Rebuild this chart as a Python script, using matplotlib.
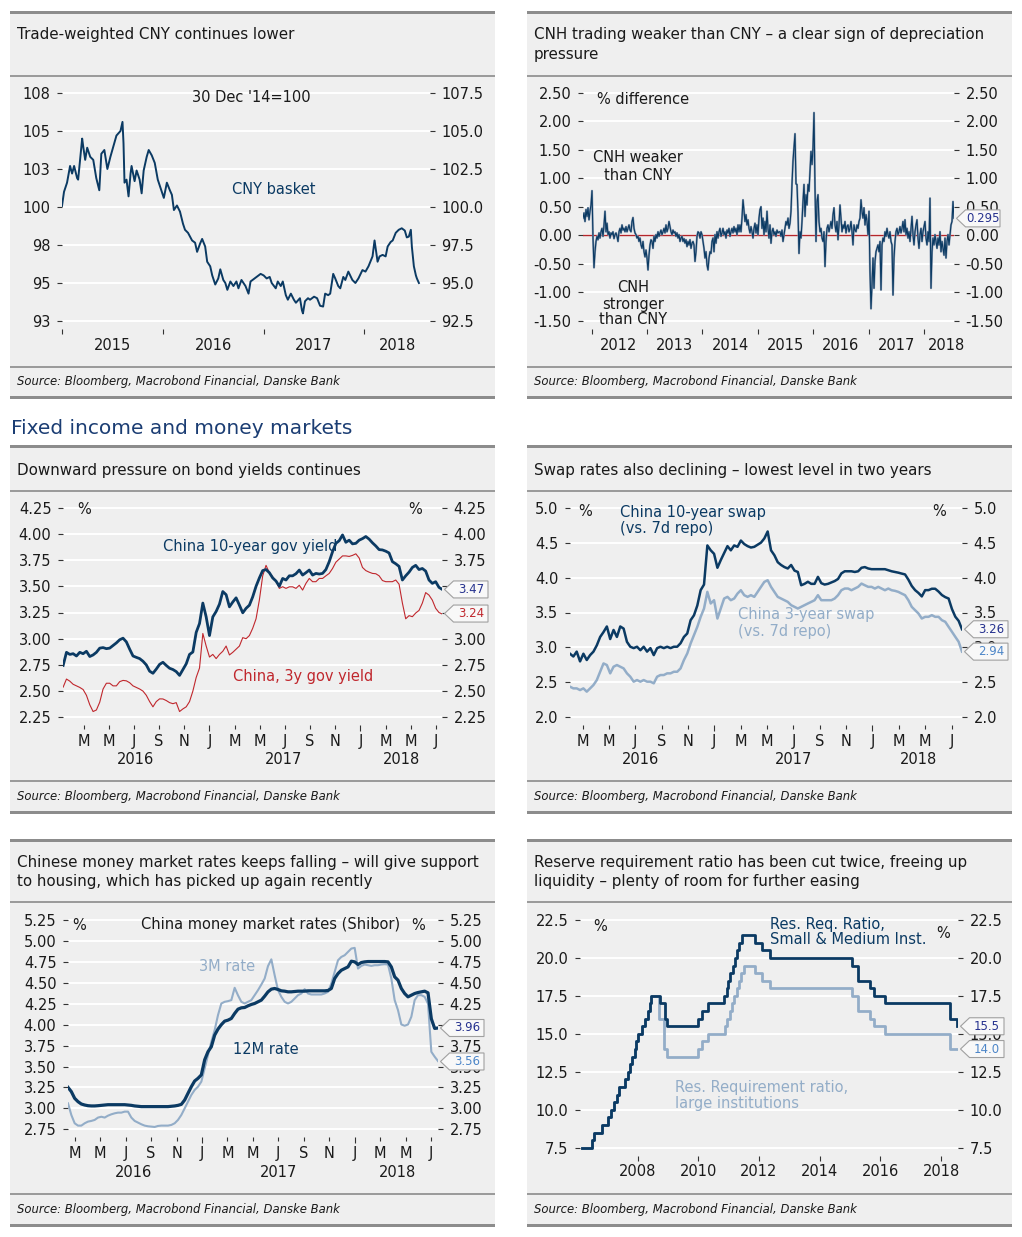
import numpy as np
import matplotlib
matplotlib.use("Agg")
import matplotlib.pyplot as plt
import matplotlib.transforms as mtransforms
from matplotlib.patches import Polygon, Rectangle

# ---- values ----
# Trade-weighted CNY basket (30 Dec '14 = 100)
CNY_YEARS = [2015.00, 2015.02, 2015.05, 2015.08, 2015.10, 2015.12, 2015.15, 2015.16, 2015.20, 2015.21,
             2015.23, 2015.25, 2015.28, 2015.31, 2015.34, 2015.37, 2015.39, 2015.42, 2015.45, 2015.48,
             2015.51, 2015.54, 2015.58, 2015.60, 2015.61, 2015.62, 2015.64, 2015.66, 2015.68, 2015.69,
             2015.72, 2015.74, 2015.77, 2015.79, 2015.81, 2015.84, 2015.86, 2015.89, 2015.92, 2015.95,
             2015.97, 2016.01, 2016.04, 2016.07, 2016.09, 2016.11, 2016.14, 2016.17, 2016.20, 2016.22,
             2016.25, 2016.29, 2016.32, 2016.34, 2016.37, 2016.39, 2016.42, 2016.44, 2016.47, 2016.49,
             2016.52, 2016.55, 2016.57, 2016.60, 2016.62, 2016.64, 2016.67, 2016.70, 2016.73, 2016.75,
             2016.78, 2016.82, 2016.85, 2016.87, 2016.91, 2016.93, 2016.97, 2017.00, 2017.03, 2017.06,
             2017.08, 2017.12, 2017.14, 2017.17, 2017.19, 2017.22, 2017.24, 2017.27, 2017.30, 2017.32,
             2017.36, 2017.38, 2017.39, 2017.41, 2017.44, 2017.46, 2017.50, 2017.53, 2017.56, 2017.59,
             2017.61, 2017.64, 2017.66, 2017.69, 2017.71, 2017.74, 2017.76, 2017.79, 2017.81, 2017.84,
             2017.88, 2017.91, 2017.94, 2017.98, 2018.01, 2018.04, 2018.08, 2018.10, 2018.13, 2018.15,
             2018.18, 2018.21, 2018.23, 2018.26, 2018.28, 2018.31, 2018.34, 2018.37, 2018.40, 2018.42,
             2018.44, 2018.46, 2018.47, 2018.49, 2018.51, 2018.52, 2018.54]
CNY_BASKET = [100.07, 101.0, 101.6, 102.7, 102.2, 102.7, 101.9, 101.8, 104.5, 104.0,
              103.1, 103.9, 103.3, 103.1, 101.9, 101.1, 103.5, 103.75, 102.5, 103.3,
              104.0, 104.7, 105.0, 105.6, 104.2, 101.6, 101.8, 100.7, 102.2, 102.7,
              101.7, 102.4, 101.8, 100.9, 102.4, 103.3, 103.75, 103.4, 102.9, 101.8,
              101.4, 100.6, 101.6, 101.1, 100.8, 99.8, 100.1, 99.7, 98.9, 98.5,
              98.3, 97.8, 97.65, 97.05, 97.6, 97.9, 97.4, 96.4, 96.1, 95.5,
              94.9, 95.3, 95.9, 95.2, 95.0, 94.55, 95.1, 94.8, 95.1, 94.65,
              95.2, 94.8, 94.3, 95.1, 95.3, 95.4, 95.6, 95.5, 95.3, 95.4,
              95.0, 94.65, 95.1, 94.8, 95.1, 94.2, 93.9, 94.3, 93.9, 93.7,
              94.0, 93.2, 93.0, 93.8, 94.0, 93.9, 94.1, 94.0, 93.5, 93.45,
              94.3, 94.2, 94.3, 95.6, 95.3, 94.8, 94.65, 95.4, 95.2, 95.75,
              95.2, 95.0, 95.3, 95.85, 95.75, 96.1, 96.75, 97.8, 96.4, 96.75,
              96.85, 96.75, 97.4, 97.7, 97.8, 98.3, 98.5, 98.6, 98.45, 98.0,
              98.05, 98.5, 97.4, 96.1, 95.5, 95.3, 95.0]

# CNH vs CNY, % difference, regular grid from CNH_START to CNH_END
CNH_START, CNH_END = 2011.843, 2018.540
CNH_SPREAD = [0.30, 0.39, 0.24, 0.45, 0.33, 0.48, 0.27, 0.42, 0.53, 0.78,
              -0.05, -0.57, -0.29, -0.11, -0.02, -0.08, 0.04, -0.05, 0.06, 0.12,
              -0.02, 0.18, 0.42, 0.06, 0.21, 0.01, 0.06, -0.05, 0.04, 0.01,
              0.06, -0.06, 0.01, 0.04, -0.02, -0.11, 0.06, 0.12, 0.04, 0.18,
              0.09, 0.12, 0.06, 0.15, 0.06, 0.12, 0.18, 0.09, 0.06, 0.24,
              0.31, 0.12, 0.04, 0.01, -0.05, -0.02, -0.11, -0.05, -0.17, -0.23,
              -0.11, -0.29, -0.38, -0.26, -0.40, -0.61, -0.35, -0.17, -0.08, -0.11,
              -0.23, -0.02, -0.11, 0.01, -0.05, 0.06, -0.02, 0.04, 0.09, 0.01,
              0.06, 0.12, 0.04, 0.18, 0.06, 0.12, 0.24, 0.15, 0.06, 0.01,
              0.09, 0.04, 0.06, -0.02, 0.04, -0.05, 0.01, -0.11, -0.05, -0.02,
              -0.11, -0.06, -0.14, -0.08, -0.20, -0.11, -0.17, -0.08, -0.23, -0.14,
              -0.11, -0.17, -0.46, -0.29, -0.02, 0.06, 0.04, -0.05, 0.06, 0.01,
              -0.11, -0.23, -0.40, -0.29, -0.52, -0.61, -0.40, -0.29, -0.32, -0.11,
              -0.05, -0.29, 0.01, -0.14, 0.06, -0.05, 0.06, 0.12, -0.02, 0.04,
              0.12, 0.01, 0.06, -0.05, 0.09, 0.04, 0.12, -0.02, 0.06, 0.12,
              0.04, 0.15, 0.06, 0.12, 0.01, 0.18, 0.06, 0.18, 0.06, 0.30,
              0.62, 0.42, 0.24, 0.36, 0.18, 0.27, 0.12, 0.04, 0.15, 0.06,
              -0.05, 0.12, 0.21, 0.04, 0.18, 0.01, 0.30, 0.45, 0.50, 0.12,
              0.30, 0.01, 0.24, 0.06, 0.42, 0.12, -0.05, 0.18, -0.14, 0.06,
              0.12, 0.01, 0.06, -0.02, 0.09, 0.04, 0.06,
              0.06, -0.02, 0.09, -0.11, 0.01, 0.12, 0.24, 0.18, 0.30, 0.12,
              0.21, 0.42, 0.90, 1.30, 1.53, 1.78, 0.90, 0.89, 0.40, -0.32,
              0.06, -0.05, 0.24, 0.59, 0.89, 0.33, 0.71, 0.53, 0.89, 0.77,
              1.12, 1.47, 1.24, 1.53, 2.15, 0.83, -0.11, 0.59, 0.71, 0.24,
              0.06, 0.12, -0.05, -0.11, 0.06, -0.55, -0.11, 0.12, 0.18, 0.06,
              0.15, 0.24, 0.12, 0.36, 0.48, 0.18, 0.06, 0.24, -0.08, 0.18,
              0.53, 0.30, 0.06, 0.18, 0.12, 0.24, 0.04, 0.15, 0.18, 0.06,
              0.12, 0.24, 0.06, -0.17, 0.18, 0.09, 0.06, 0.18, 0.12, 0.24,
              0.30, 0.62, 0.42, 0.30, 0.48, 0.18, 0.36, 0.24, 0.01, 0.42,
              -0.64, -1.29, -0.87, -0.40, -0.93, -0.46, -0.29, -0.23, -0.17, -0.29,
              -0.11, -0.96, -0.17, -0.05, -0.11, 0.06, -0.02, 0.12, 0.01, -0.05,
              0.06, -0.11, -0.17, -1.05, -0.40, -0.11, 0.06, 0.12, 0.01, 0.06,
              0.15, 0.04, 0.12, 0.24, 0.06, 0.27, 0.01, 0.12, -0.05, 0.06,
              -0.11, 0.12, 0.33, 0.01, -0.17, 0.06, 0.18, 0.27, -0.05, -0.23,
              0.01, 0.12, -0.11, 0.06, 0.15, 0.24, -0.05, -0.17, 0.06, -0.11,
              0.65, -0.93, -0.29, -0.05, -0.17, 0.01, -0.11, -0.23, -0.05, -0.17,
              0.06, -0.29, -0.11, -0.23, -0.35, -0.05, -0.40, -0.11, 0.01, -0.17,
              0.01, 0.18, 0.24, 0.59, 0.30]
CNH_LAST = 0.295

# China government bond yields, %
BOND_START, BOND_END = 2016.031, 2018.542
GOV_10Y = [2.745, 2.87, 2.85, 2.857, 2.835, 2.87, 2.857, 2.88, 2.83, 2.845,
           2.87, 2.91, 2.915, 2.905, 2.91, 2.935, 2.96, 2.99, 3.005, 2.97,
           2.90, 2.835, 2.822, 2.81, 2.785, 2.75, 2.69, 2.67, 2.71, 2.755,
           2.775, 2.745, 2.718, 2.706, 2.686, 2.65, 2.705, 2.76, 2.85, 2.873,
           3.06, 3.145, 3.34, 3.208, 3.03, 3.208, 3.26, 3.33, 3.45, 3.42,
           3.304, 3.35, 3.39, 3.32, 3.247, 3.29, 3.32, 3.40, 3.50, 3.58,
           3.65, 3.66, 3.63, 3.58, 3.55, 3.50, 3.575, 3.56, 3.60, 3.60,
           3.62, 3.655, 3.607, 3.63, 3.655, 3.607, 3.623, 3.617, 3.623, 3.66,
           3.735, 3.83, 3.91, 3.935, 3.99, 3.92, 3.94, 3.905, 3.91, 3.94,
           3.955, 3.975, 3.95, 3.915, 3.885, 3.85, 3.847, 3.835, 3.818, 3.735,
           3.715, 3.69, 3.56, 3.60, 3.635, 3.68, 3.70, 3.66, 3.67, 3.645,
           3.56, 3.528, 3.544, 3.49, 3.47]
GOV_3Y = [2.538, 2.615, 2.595, 2.565, 2.55, 2.535, 2.515, 2.46, 2.37, 2.305,
          2.32, 2.394, 2.52, 2.575, 2.575, 2.55, 2.55, 2.59, 2.602, 2.598,
          2.58, 2.55, 2.535, 2.52, 2.50, 2.46, 2.40, 2.35, 2.40, 2.426,
          2.425, 2.41, 2.39, 2.38, 2.39, 2.305, 2.33, 2.35, 2.40, 2.50,
          2.63, 2.72, 3.05, 2.93, 2.825, 2.85, 2.81, 2.85, 2.88, 2.93,
          2.845, 2.87, 2.90, 2.93, 3.01, 3.00, 3.03, 3.10, 3.19, 3.37,
          3.60, 3.70, 3.63, 3.59, 3.55, 3.48, 3.496, 3.48, 3.495, 3.495,
          3.48, 3.51, 3.464, 3.528, 3.575, 3.544, 3.544, 3.575, 3.575, 3.60,
          3.623, 3.67, 3.73, 3.76, 3.79, 3.79, 3.785, 3.795, 3.81, 3.77,
          3.68, 3.65, 3.635, 3.623, 3.62, 3.60, 3.555, 3.544, 3.544, 3.544,
          3.56, 3.52, 3.34, 3.19, 3.22, 3.21, 3.245, 3.27, 3.34, 3.44,
          3.416, 3.368, 3.29, 3.25, 3.235]
GOV_LAST = (3.47, 3.24)

# China swap rates vs 7d repo, %
SWAP_START, SWAP_END = 2016.087, 2018.566
SWAP_10Y = [2.91, 2.87, 2.94, 2.80, 2.91, 2.82, 2.89, 2.94, 3.03, 3.15,
            3.22, 3.30, 3.12, 3.25, 3.15, 3.30, 3.27, 3.08, 3.01, 2.99,
            3.01, 2.96, 3.01, 2.94, 2.99, 2.89, 2.99, 3.01, 2.99, 3.01,
            2.99, 3.01, 3.01, 3.06, 3.15, 3.20, 3.39, 3.46, 3.60, 3.82,
            3.90, 4.46, 4.39, 4.34, 4.14, 4.25, 4.35, 4.45, 4.39, 4.46,
            4.44, 4.53, 4.48, 4.45, 4.43, 4.44, 4.47, 4.50, 4.56, 4.66,
            4.39, 4.32, 4.22, 4.18, 4.15, 4.13, 4.18, 4.10, 4.08, 3.89,
            3.91, 3.94, 3.91, 3.91, 4.01, 3.92, 3.90, 3.91, 3.93, 3.95,
            3.98, 4.06, 4.09, 4.09, 4.09, 4.08, 4.09, 4.14, 4.15, 4.13,
            4.12, 4.12, 4.12, 4.12, 4.12, 4.105, 4.09, 4.08, 4.07, 4.057,
            4.045, 3.97, 3.88, 3.82, 3.78, 3.73, 3.82, 3.82, 3.84, 3.84,
            3.80, 3.75, 3.72, 3.70, 3.55, 3.44, 3.38, 3.26]
SWAP_3Y = [2.438, 2.414, 2.414, 2.39, 2.414, 2.367, 2.414, 2.462, 2.533, 2.652,
           2.771, 2.748, 2.629, 2.724, 2.748, 2.724, 2.70, 2.629, 2.581, 2.51,
           2.533, 2.51, 2.533, 2.51, 2.51, 2.486, 2.581, 2.605, 2.605, 2.629,
           2.629, 2.652, 2.652, 2.70, 2.819, 2.914, 3.057, 3.176, 3.295, 3.438,
           3.557, 3.795, 3.629, 3.676, 3.414, 3.557, 3.70, 3.724, 3.676, 3.70,
           3.771, 3.819, 3.748, 3.724, 3.748, 3.724, 3.795, 3.867, 3.938, 3.962,
           3.867, 3.795, 3.724, 3.70, 3.676, 3.652, 3.605, 3.581, 3.557, 3.581,
           3.605, 3.629, 3.652, 3.676, 3.748, 3.676, 3.676, 3.676, 3.676, 3.70,
           3.748, 3.819, 3.843, 3.843, 3.819, 3.843, 3.867, 3.914, 3.89, 3.867,
           3.867, 3.843, 3.867, 3.843, 3.819, 3.843, 3.819, 3.81, 3.795, 3.771,
           3.748, 3.676, 3.581, 3.533, 3.486, 3.414, 3.438, 3.438, 3.462, 3.438,
           3.438, 3.39, 3.367, 3.295, 3.224, 3.152, 3.081, 2.94]
SWAP_LAST = (3.26, 2.94)

# Shibor money market rates, %
SHIBOR_START, SHIBOR_END = 2016.122, 2018.546
SHIBOR_12M = [3.251, 3.20, 3.12, 3.08, 3.052, 3.04, 3.032, 3.029, 3.029, 3.032,
              3.036, 3.04, 3.044, 3.044, 3.044, 3.044, 3.044, 3.044, 3.04, 3.036,
              3.029, 3.025, 3.021, 3.021, 3.021, 3.021, 3.021, 3.021, 3.021, 3.021,
              3.021, 3.025, 3.029, 3.036, 3.048, 3.10, 3.18, 3.259, 3.327, 3.359,
              3.40, 3.58, 3.677, 3.736, 3.875, 3.947, 4.00, 4.042, 4.054, 4.074,
              4.134, 4.185, 4.201, 4.205, 4.225, 4.241, 4.253, 4.273, 4.293, 4.34,
              4.392, 4.424, 4.432, 4.42, 4.404, 4.40, 4.392, 4.392, 4.396, 4.40,
              4.40, 4.40, 4.404, 4.404, 4.404, 4.404, 4.404, 4.404, 4.408, 4.432,
              4.551, 4.61, 4.65, 4.67, 4.69, 4.758, 4.75, 4.718, 4.742, 4.75,
              4.754, 4.754, 4.754, 4.754, 4.754, 4.754, 4.75, 4.69, 4.571, 4.531,
              4.432, 4.372, 4.332, 4.352, 4.372, 4.384, 4.392, 4.40, 4.38, 4.07,
              3.955, 3.96]
SHIBOR_3M = [3.06, 2.921, 2.822, 2.794, 2.794, 2.822, 2.842, 2.85, 2.862, 2.89,
             2.90, 2.89, 2.913, 2.929, 2.941, 2.949, 2.949, 2.961, 2.961, 2.89,
             2.85, 2.83, 2.81, 2.794, 2.786, 2.782, 2.778, 2.79, 2.794, 2.794,
             2.794, 2.802, 2.822, 2.862, 2.921, 3.00, 3.08, 3.16, 3.22, 3.259,
             3.319, 3.478, 3.637, 3.796, 3.935, 4.114, 4.253, 4.273, 4.281, 4.293,
             4.44, 4.35, 4.273, 4.253, 4.273, 4.293, 4.352, 4.412, 4.479, 4.551,
             4.70, 4.78, 4.59, 4.412, 4.332, 4.273, 4.253, 4.273, 4.312, 4.352,
             4.372, 4.424, 4.372, 4.36, 4.36, 4.36, 4.36, 4.372, 4.392, 4.491,
             4.63, 4.769, 4.809, 4.829, 4.869, 4.909, 4.917, 4.67, 4.702, 4.718,
             4.71, 4.702, 4.71, 4.71, 4.718, 4.722, 4.718, 4.551, 4.293, 4.173,
             4.002, 3.987, 4.002, 4.094, 4.293, 4.352, 4.352, 4.332, 4.25, 3.676,
             3.617, 3.565]
SHIBOR_LAST = (3.96, 3.56)

# Reserve requirement ratios, %, value from each date on
RRR_SMALL_DATES = [2006.15, 2006.48, 2006.57, 2006.84, 2007.01, 2007.12, 2007.23, 2007.31, 2007.38,
                   2007.58, 2007.67, 2007.75, 2007.82, 2007.91, 2007.95, 2008.02, 2008.16, 2008.24,
                   2008.33, 2008.41, 2008.44, 2008.74, 2008.90, 2008.96, 2010.00, 2010.11, 2010.31,
                   2010.86, 2010.93, 2010.99, 2011.04, 2011.15, 2011.21, 2011.26, 2011.34, 2011.43,
                   2011.87, 2012.09, 2012.36, 2015.08, 2015.27, 2015.66, 2015.80, 2016.15, 2018.30,
                   2018.52]
RRR_SMALL = [7.5, 8.0, 8.5, 9.0, 9.5, 10.0, 10.5, 11.0, 11.5, 12.0, 12.5, 13.0, 13.5, 14.0, 14.5,
             15.0, 15.5, 16.0, 16.5, 17.0, 17.5, 17.0, 16.0, 15.5, 16.0, 16.5, 17.0, 17.5, 18.0,
             18.5, 19.0, 19.5, 20.0, 20.5, 21.0, 21.5, 21.0, 20.5, 20.0, 19.5, 18.5, 18.0, 17.5,
             17.0, 16.0, 15.5]
RRR_LARGE_DATES = [2006.15, 2006.48, 2006.57, 2006.84, 2007.01, 2007.12, 2007.23, 2007.31, 2007.38,
                   2007.58, 2007.67, 2007.75, 2007.82, 2007.91, 2007.95, 2008.02, 2008.16, 2008.24,
                   2008.33, 2008.41, 2008.44, 2008.70, 2008.88, 2008.96, 2010.00, 2010.11, 2010.31,
                   2010.88, 2010.93, 2011.04, 2011.12, 2011.19, 2011.26, 2011.34, 2011.41, 2011.52,
                   2011.87, 2012.09, 2012.36, 2015.08, 2015.27, 2015.66, 2015.80, 2016.15, 2018.30,
                   2018.52]
RRR_LARGE = [7.5, 8.0, 8.5, 9.0, 9.5, 10.0, 10.5, 11.0, 11.5, 12.0, 12.5, 13.0, 13.5, 14.0, 14.5,
             15.0, 15.5, 16.0, 16.5, 17.0, 17.5, 16.0, 14.0, 13.5, 14.0, 14.5, 15.0, 15.5, 16.0,
             16.5, 17.0, 17.5, 18.0, 18.5, 19.0, 19.5, 19.0, 18.5, 18.0, 17.5, 16.5, 16.0, 15.5,
             15.0, 14.0, 14.0]
RRR_LAST = (15.5, 14.0)

# ---- styling ----
W, H = 1022, 1237
NAVY = "#0b3a63"
LIGHT = "#93adc8"
RED = "#c0272d"
BG = "#efefef"
RULE = "#8c8c8c"
SEP = "#9b9b9b"
TXT = "#1a1a1a"
HEAD = "#1b3d73"
LBL_NAVY = "#26328f"
LBL_LIGHT = "#4d86c8"
SOURCE = "Source: Bloomberg, Macrobond Financial, Danske Bank"
BIMONTHLY = ([2016 + m / 12 for m in (2, 4, 6, 8, 10)]
             + [2017 + m / 12 for m in range(0, 12, 2)]
             + [2018 + m / 12 for m in (0, 2, 4, 6)])

fig = plt.figure(figsize=(W / 100, H / 100), dpi=100)
# bg holds the panel frames, top holds all free text (above the gridlines)
bg = fig.add_axes([0, 0, 1, 1], zorder=-1)
top = fig.add_axes([0, 0, 1, 1], zorder=10)
for a in (bg, top):
    a.set_xlim(0, W)
    a.set_ylim(H, 0)
    a.axis("off")


def put(x, y, s, size=10.5, color=TXT, **kw):
    top.text(x, y, s, fontsize=size, color=color, va="center", **kw)


def panel(x0, x1, ytop, sep1, sep2, bottom, titles, title_y, src_y):
    w = x1 - x0
    bg.add_patch(Rectangle((x0, ytop), w, bottom - ytop, color=BG, lw=0))
    for y, h, c in ((ytop, 3, RULE), (sep1, 2, SEP), (sep2, 2, SEP), (bottom, 3, RULE)):
        bg.add_patch(Rectangle((x0, y - h / 2), w, h, color=c, lw=0))
    for s, y in zip(titles, title_y):
        put(x0 + 7, y, s, size=10.9)
    put(x0 + 7, src_y, SOURCE, size=8.4, style="italic")


def chart(x0, x1, gtop, gbot, vtop, vbot, xlim, yticks, fmt, left_labels=None, covered=()):
    # gtop/gbot: pixel rows of the top and bottom gridline
    # covered: right-hand labels that sit fully behind an end-value box
    y0, y1 = gtop - 5, gbot + 8
    ax = fig.add_axes([x0 / W, 1 - y1 / H, (x1 - x0) / W, (y1 - y0) / H])
    s = (vtop - vbot) / (gbot - gtop)
    ax.set_ylim(vbot - (y1 - gbot) * s, vtop + (gtop - y0) * s)
    ax.set_xlim(*xlim)
    ax.patch.set_visible(False)
    for sp in ax.spines.values():
        sp.set_visible(False)
    labels = [fmt.format(t) for t in yticks]
    ax.set_yticks(yticks, labels=left_labels or labels)
    ax.grid(axis="y", color="white", lw=1.4)
    ax.set_axisbelow(True)
    tick_kw = dict(length=3.6, width=0.8, pad=4.7, labelsize=10.5, color="#333333", labelcolor=TXT)
    ax.tick_params(axis="y", **tick_kw)
    sec = ax.secondary_yaxis("right")
    sec.spines["right"].set_visible(False)
    sec.set_yticks(yticks, labels=["" if t in covered else l for t, l in zip(yticks, labels)])
    sec.tick_params(axis="y", **tick_kw)
    ax.tick_params(axis="x", which="both", labelbottom=False, width=0.8, color="#333333")
    return ax


def xlabel(ax, x, y, s):
    tr = mtransforms.blended_transform_factory(ax.transData, bg.transData)
    ax.text(x, y, s, transform=tr, ha="center", va="center", fontsize=10.5, color=TXT)


def year_axis(ax, years, label_pos, y):
    ax.set_xticks(years)
    ax.tick_params(axis="x", length=3.6)
    for yr, pos in zip(years, label_pos):
        xlabel(ax, pos, y, str(yr))


def month_axis(ax, mon_y, year_pos, year_y):
    ax.set_xticks([t for t in BIMONTHLY if t % 1 == 0])
    ax.set_xticks([t for t in BIMONTHLY if t % 1 != 0], minor=True)
    ax.tick_params(axis="x", which="major", length=4.5)
    ax.tick_params(axis="x", which="minor", length=2.8)
    for t in BIMONTHLY:
        xlabel(ax, t, mon_y, "JFMAMJJASOND"[round((t % 1) * 12)])
    for yr, pos in zip((2016, 2017, 2018), year_pos):
        xlabel(ax, pos, year_y, str(yr))


def callout(ax, val, txt, color):
    tr = fig.dpi_scale_trans + mtransforms.ScaledTranslation(1.0, val, ax.get_yaxis_transform())
    pts = [(0.025, 0), (0.115, 0.085), (0.46, 0.085), (0.46, -0.085), (0.115, -0.085)]
    fig.add_artist(Polygon(pts, closed=True, transform=tr, facecolor="#f8f8f8",
                           edgecolor="#a0a0a0", lw=0.8, zorder=5))
    fig.text(0.29, 0, txt, transform=tr, ha="center", va="center", fontsize=8.5,
             color=color, zorder=6)


# ---- frames and titles ----
panel(10, 495, 12.5, 76, 366.7, 397.5, ["Trade-weighted CNY continues lower"], [35], 381)
panel(527, 1012, 12.5, 76, 366.7, 397.5,
      ["CNH trading weaker than CNY \u2013 a clear sign of depreciation", "pressure"], [35, 55], 381)
put(11, 428, "Fixed income and money markets", size=14.5, color=HEAD)
panel(10, 495, 446.7, 490.5, 781, 812.3, ["Downward pressure on bond yields continues"], [470], 796.7)
panel(527, 1012, 446.7, 490.5, 781, 812.3,
      ["Swap rates also declining \u2013 lowest level in two years"], [470], 796.7)
panel(10, 495, 840, 902.3, 1193.5, 1225.5,
      ["Chinese money market rates keeps falling \u2013 will give support",
       "to housing, which has picked up again recently"], [862.7, 881.7], 1209)
panel(527, 1012, 840, 902.3, 1193.5, 1225.5,
      ["Reserve requirement ratio has been cut twice, freeing up",
       "liquidity \u2013 plenty of room for further easing"], [862.7, 881.7], 1209)

# ---- 1: trade-weighted CNY ----
ax1 = chart(62, 430, 93, 321, 107.5, 92.5, (2015.0, 2018.65),
            [92.5, 95, 97.5, 100, 102.5, 105, 107.5], "{:.1f}",
            left_labels=["93", "95", "98", "100", "103", "105", "108"])
ax1.plot(CNY_YEARS, CNY_BASKET, color=NAVY, lw=1.4)
year_axis(ax1, [2015, 2016, 2017, 2018], [2015.5, 2016.5, 2017.5, 2018.33], 346)
put(251, 97, "30 Dec '14=100", ha="center")
put(273.5, 189, "CNY basket", color=NAVY, ha="center")

# ---- 2: CNH vs CNY ----
ax2 = chart(583, 954, 92.7, 320.7, 2.5, -1.5, (CNH_START, CNH_END),
            [-1.5, -1.0, -0.5, 0.0, 0.5, 1.0, 1.5, 2.0, 2.5], "{:.2f}")
x2 = np.linspace(CNH_START, CNH_END, len(CNH_SPREAD))
ax2.axhline(0, color="#b3262b", lw=1.0)
ax2.plot(x2, CNH_SPREAD, color="#8a9bb1", lw=1.5)
ax2.plot(x2, CNH_SPREAD, color=NAVY, lw=0.8)
year_axis(ax2, list(range(2012, 2019)),
          [2012.49, 2013.49, 2014.5, 2015.5, 2016.49, 2017.51, 2018.4], 345.7)
callout(ax2, CNH_LAST, "0.295", LBL_NAVY)
put(643.5, 100, "% difference", ha="center")
put(638, 158, "CNH weaker", ha="center")
put(638, 175, "than CNY", ha="center")
put(633, 287, "CNH", ha="center")
put(633, 304, "stronger", ha="center")
put(633, 320, "than CNY", ha="center")

# ---- 3: bond yields ----
ax3 = chart(63, 442, 507.7, 717.3, 4.25, 2.25, (2016.03, 2018.54),
            [2.25, 2.5, 2.75, 3.0, 3.25, 3.5, 3.75, 4.0, 4.25], "{:.2f}", covered=(3.25, 3.5))
x3 = np.linspace(BOND_START, BOND_END, len(GOV_10Y))
ax3.plot(x3, GOV_3Y, color=RED, lw=0.8)
ax3.plot(x3, GOV_10Y, color=NAVY, lw=2.0)
month_axis(ax3, 741.7, [2016.51, 2017.49, 2018.27], 760)
callout(ax3, GOV_LAST[0], "3.47", LBL_NAVY)
callout(ax3, GOV_LAST[1], "3.24", RED)
put(84, 509, "%", ha="center")
put(415, 510, "%", ha="center")
put(163, 546.7, "China 10-year gov yield", color=NAVY)
put(233, 676.7, "China, 3y gov yield", color=RED)

# ---- 4: swap rates ----
ax4 = chart(570, 962, 507.7, 717.3, 5.0, 2.0, (SWAP_START, SWAP_END),
            [2.0, 2.5, 3.0, 3.5, 4.0, 4.5, 5.0], "{:.1f}")
x4 = np.linspace(SWAP_START, SWAP_END, len(SWAP_10Y))
ax4.plot(x4, SWAP_3Y, color=LIGHT, lw=1.8)
ax4.plot(x4, SWAP_10Y, color=NAVY, lw=1.8)
month_axis(ax4, 741.7, [2016.53, 2017.5, 2018.29], 760)
callout(ax4, SWAP_LAST[0], "3.26", LBL_NAVY)
callout(ax4, SWAP_LAST[1], "2.94", LBL_LIGHT)
put(585, 511, "%", ha="center")
put(939, 511, "%", ha="center")
put(620, 512.3, "China 10-year swap", color=NAVY)
put(620, 529, "(vs. 7d repo)", color=NAVY)
put(738, 615, "China 3-year swap", color=LIGHT)
put(738, 631.7, "(vs. 7d repo)", color=LIGHT)

# ---- 5: Shibor ----
ax5 = chart(68, 438, 920, 1129.3, 5.25, 2.75, (SHIBOR_START, SHIBOR_END),
            [2.75, 3.0, 3.25, 3.5, 3.75, 4.0, 4.25, 4.5, 4.75, 5.0, 5.25], "{:.2f}",
            covered=(4.0,))
x5 = np.linspace(SHIBOR_START, SHIBOR_END, len(SHIBOR_12M))
ax5.plot(x5, SHIBOR_3M, color=LIGHT, lw=1.5)
ax5.plot(x5, SHIBOR_12M, color=NAVY, lw=2.3)
month_axis(ax5, 1153.3, [2016.55, 2017.5, 2018.28], 1172.3)
callout(ax5, SHIBOR_LAST[0], "3.96", LBL_NAVY)
callout(ax5, SHIBOR_LAST[1], "3.56", LBL_LIGHT)
put(79, 926, "%", ha="center")
put(418, 926, "%", ha="center")
put(270.5, 924.3, "China money market rates (Shibor)", ha="center")
put(199, 966.7, "3M rate", color=LIGHT)
put(233, 1050, "12M rate", color=NAVY)

# ---- 6: reserve requirement ratio ----
ax6 = chart(580, 958, 920, 1147.7, 22.5, 7.5, (2006.10, 2018.56),
            [7.5, 10.0, 12.5, 15.0, 17.5, 20.0, 22.5], "{:.1f}")
ax6.step(RRR_LARGE_DATES, RRR_LARGE, where="post", color=LIGHT, lw=2.0)
ax6.step(RRR_SMALL_DATES, RRR_SMALL, where="post", color=NAVY, lw=2.0)
ax6.set_xticks(range(2008, 2019, 2))
ax6.tick_params(axis="x", length=3.6)
for yr in range(2008, 2019, 2):
    xlabel(ax6, yr, 1171.7, str(yr))
callout(ax6, RRR_LAST[0], "15.5", LBL_NAVY)
callout(ax6, RRR_LAST[1], "14.0", LBL_LIGHT)
put(600, 926.7, "%", ha="center")
put(943.3, 933.3, "%", ha="center")
put(770, 924, "Res. Req. Ratio,", color=NAVY)
put(770, 940, "Small & Medium Inst.", color=NAVY)
put(675, 1087.3, "Res. Requirement ratio,", color=LIGHT)
put(675, 1103.3, "large institutions", color=LIGHT)

fig.savefig("out.png", dpi=100)
